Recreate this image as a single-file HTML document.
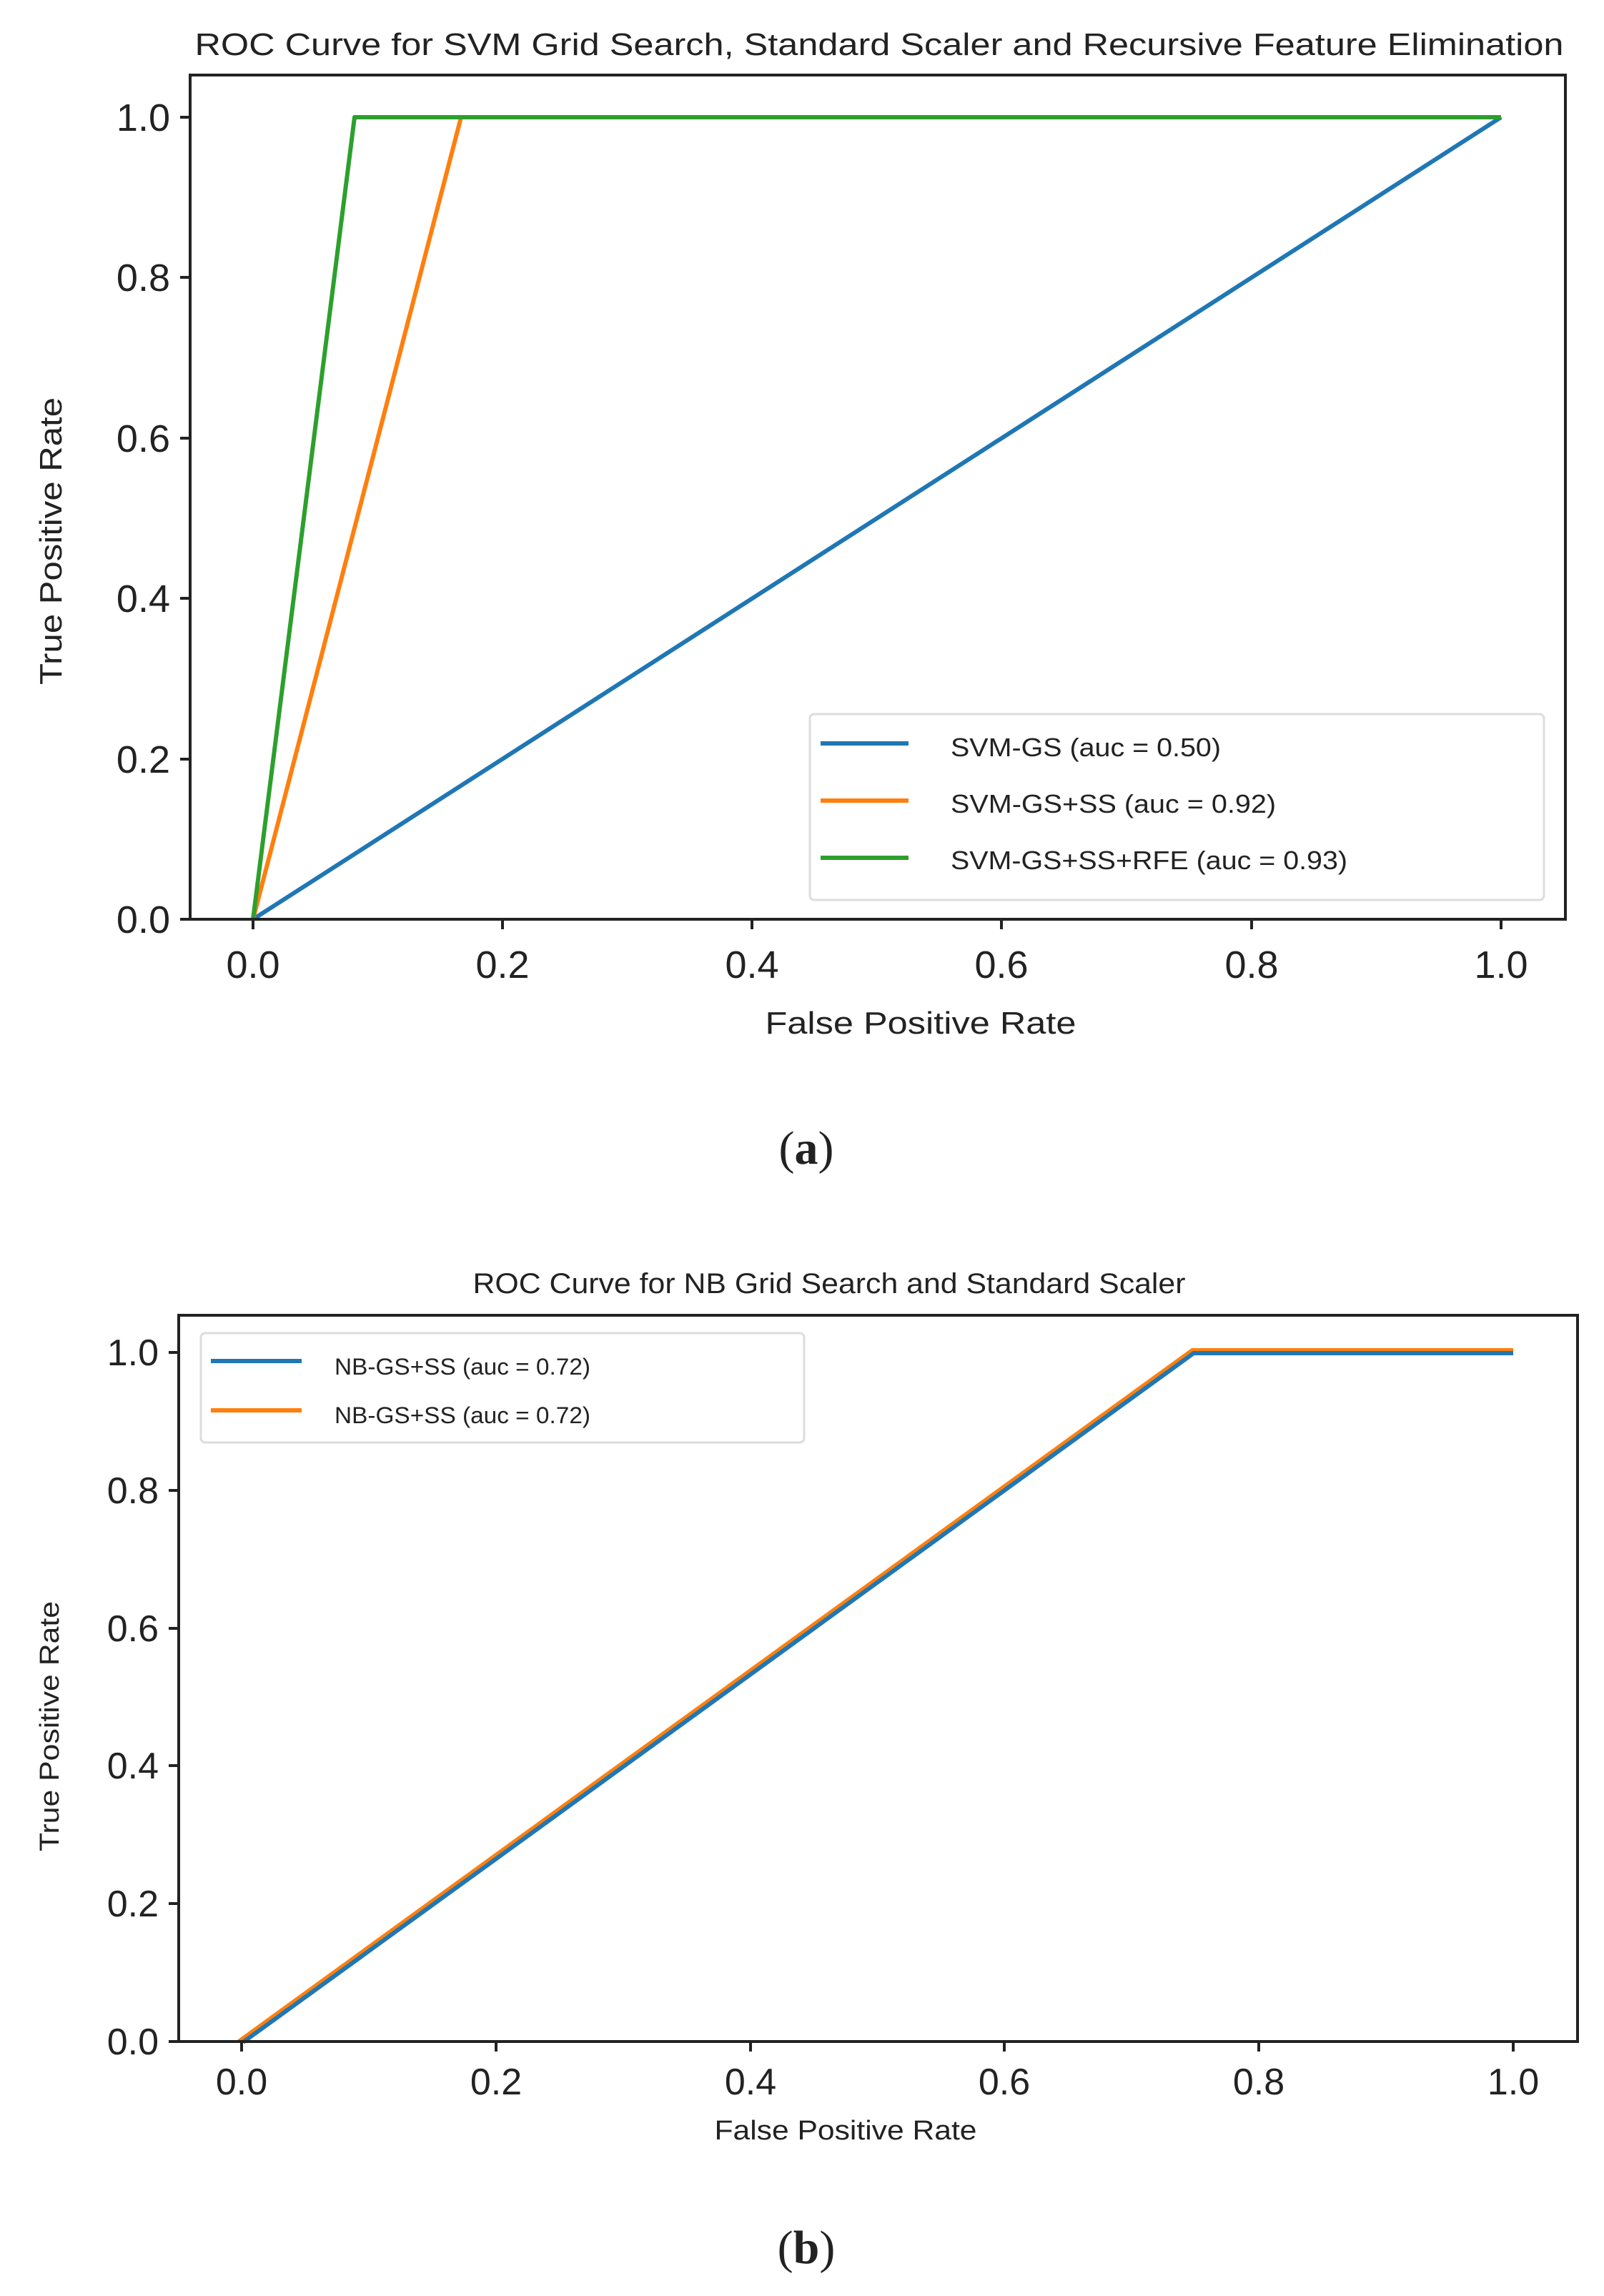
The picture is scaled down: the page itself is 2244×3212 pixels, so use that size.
<!DOCTYPE html>
<html><head><meta charset="utf-8"><style>html,body{margin:0;padding:0;background:#fff}svg{display:block}</style></head>
<body>
<svg width="2244" height="3212" viewBox="0 0 2244 3212" xmlns="http://www.w3.org/2000/svg" font-family="Liberation Sans, sans-serif" fill="#222">
<!-- Chart A -->
<text x="1230" y="77" font-size="44" text-anchor="middle" textLength="1915" lengthAdjust="spacingAndGlyphs">ROC Curve for SVM Grid Search, Standard Scaler and Recursive Feature Elimination</text>
<g stroke="#222" stroke-width="4">
<line x1="354" y1="1286" x2="354" y2="1300"/><line x1="703" y1="1286" x2="703" y2="1300"/><line x1="1052" y1="1286" x2="1052" y2="1300"/><line x1="1401" y1="1286" x2="1401" y2="1300"/><line x1="1751" y1="1286" x2="1751" y2="1300"/><line x1="2100" y1="1286" x2="2100" y2="1300"/>
<line x1="252" y1="164" x2="266" y2="164"/><line x1="252" y1="388" x2="266" y2="388"/><line x1="252" y1="613" x2="266" y2="613"/><line x1="252" y1="837" x2="266" y2="837"/><line x1="252" y1="1062" x2="266" y2="1062"/><line x1="252" y1="1286" x2="266" y2="1286"/>
</g>
<g font-size="54" text-anchor="end">
<text x="238" y="183">1.0</text><text x="238" y="407">0.8</text><text x="238" y="632">0.6</text><text x="238" y="856">0.4</text><text x="238" y="1081">0.2</text><text x="238" y="1305">0.0</text>
</g>
<g font-size="54" text-anchor="middle">
<text x="354" y="1368">0.0</text><text x="703" y="1368">0.2</text><text x="1052" y="1368">0.4</text><text x="1401" y="1368">0.6</text><text x="1751" y="1368">0.8</text><text x="2100" y="1368">1.0</text>
</g>
<text x="1288" y="1446" font-size="44" text-anchor="middle" textLength="435" lengthAdjust="spacingAndGlyphs">False Positive Rate</text>
<text transform="translate(86,757) rotate(-90)" font-size="44" text-anchor="middle" textLength="402" lengthAdjust="spacingAndGlyphs">True Positive Rate</text>
<g fill="none" stroke-width="6" stroke-linejoin="round">
<polyline stroke="#1f77b4" points="354,1286 2100,164"/>
<polyline stroke="#ff7f0e" points="354,1286 645,164 2100,164"/>
<polyline stroke="#2ca02c" points="354,1286 496,164 2100,164"/>
</g>
<rect x="1133" y="999" width="1027" height="260" rx="6" fill="#fff" fill-opacity="0.85" stroke="#ddd" stroke-width="3"/>
<g stroke-width="6"><line x1="1148" y1="1040" x2="1271" y2="1040" stroke="#1f77b4"/><line x1="1148" y1="1120" x2="1271" y2="1120" stroke="#ff7f0e"/><line x1="1148" y1="1200" x2="1271" y2="1200" stroke="#2ca02c"/></g>
<g font-size="36">
<text x="1330" y="1058" textLength="378" lengthAdjust="spacingAndGlyphs">SVM-GS (auc = 0.50)</text>
<text x="1330" y="1137" textLength="455" lengthAdjust="spacingAndGlyphs">SVM-GS+SS (auc = 0.92)</text>
<text x="1330" y="1216" textLength="555" lengthAdjust="spacingAndGlyphs">SVM-GS+SS+RFE (auc = 0.93)</text>
</g>
<rect x="266" y="105" width="1924" height="1181" fill="none" stroke="#222" stroke-width="4"/>
<text x="1128" y="1628" font-family="Liberation Serif, serif" font-size="66" text-anchor="middle">(<tspan font-weight="bold">a</tspan>)</text>

<!-- Chart B -->
<text x="1160" y="1809" font-size="40" text-anchor="middle" textLength="997" lengthAdjust="spacingAndGlyphs">ROC Curve for NB Grid Search and Standard Scaler</text>
<g stroke="#222" stroke-width="4">
<line x1="338" y1="2856" x2="338" y2="2870"/><line x1="694" y1="2856" x2="694" y2="2870"/><line x1="1050" y1="2856" x2="1050" y2="2870"/><line x1="1405" y1="2856" x2="1405" y2="2870"/><line x1="1761" y1="2856" x2="1761" y2="2870"/><line x1="2117" y1="2856" x2="2117" y2="2870"/>
<line x1="236" y1="1892" x2="250" y2="1892"/><line x1="236" y1="2085" x2="250" y2="2085"/><line x1="236" y1="2278" x2="250" y2="2278"/><line x1="236" y1="2470" x2="250" y2="2470"/><line x1="236" y1="2663" x2="250" y2="2663"/><line x1="236" y1="2856" x2="250" y2="2856"/>
</g>
<g font-size="52" text-anchor="end">
<text x="222" y="1910">1.0</text><text x="222" y="2103">0.8</text><text x="222" y="2296">0.6</text><text x="222" y="2488">0.4</text><text x="222" y="2681">0.2</text><text x="222" y="2874">0.0</text>
</g>
<g font-size="52" text-anchor="middle">
<text x="338" y="2930">0.0</text><text x="694" y="2930">0.2</text><text x="1050" y="2930">0.4</text><text x="1405" y="2930">0.6</text><text x="1761" y="2930">0.8</text><text x="2117" y="2930">1.0</text>
</g>
<text x="1183" y="2993" font-size="38" text-anchor="middle" textLength="367" lengthAdjust="spacingAndGlyphs">False Positive Rate</text>
<text transform="translate(82,2415) rotate(-90)" font-size="38" text-anchor="middle" textLength="350" lengthAdjust="spacingAndGlyphs">True Positive Rate</text>
<g fill="none" stroke-width="6" stroke-linejoin="round">
<polyline stroke="#ff7f0e" points="334,2856 1668,1889 2117,1889"/>
<polyline stroke="#1f77b4" points="340,2857 1670,1893 2117,1893"/>
</g>
<rect x="281" y="1865" width="844" height="153" rx="6" fill="#fff" fill-opacity="0.85" stroke="#ddd" stroke-width="3"/>
<g stroke-width="6"><line x1="295" y1="1904" x2="422" y2="1904" stroke="#1f77b4"/><line x1="295" y1="1973" x2="422" y2="1973" stroke="#ff7f0e"/></g>
<g font-size="32">
<text x="468" y="1923" textLength="358" lengthAdjust="spacingAndGlyphs">NB-GS+SS (auc = 0.72)</text>
<text x="468" y="1991" textLength="358" lengthAdjust="spacingAndGlyphs">NB-GS+SS (auc = 0.72)</text>
</g>
<rect x="250" y="1840" width="1957" height="1016" fill="none" stroke="#222" stroke-width="4"/>
<text x="1128" y="3166" font-family="Liberation Serif, serif" font-size="66" text-anchor="middle">(<tspan font-weight="bold">b</tspan>)</text>
</svg>
</body></html>
